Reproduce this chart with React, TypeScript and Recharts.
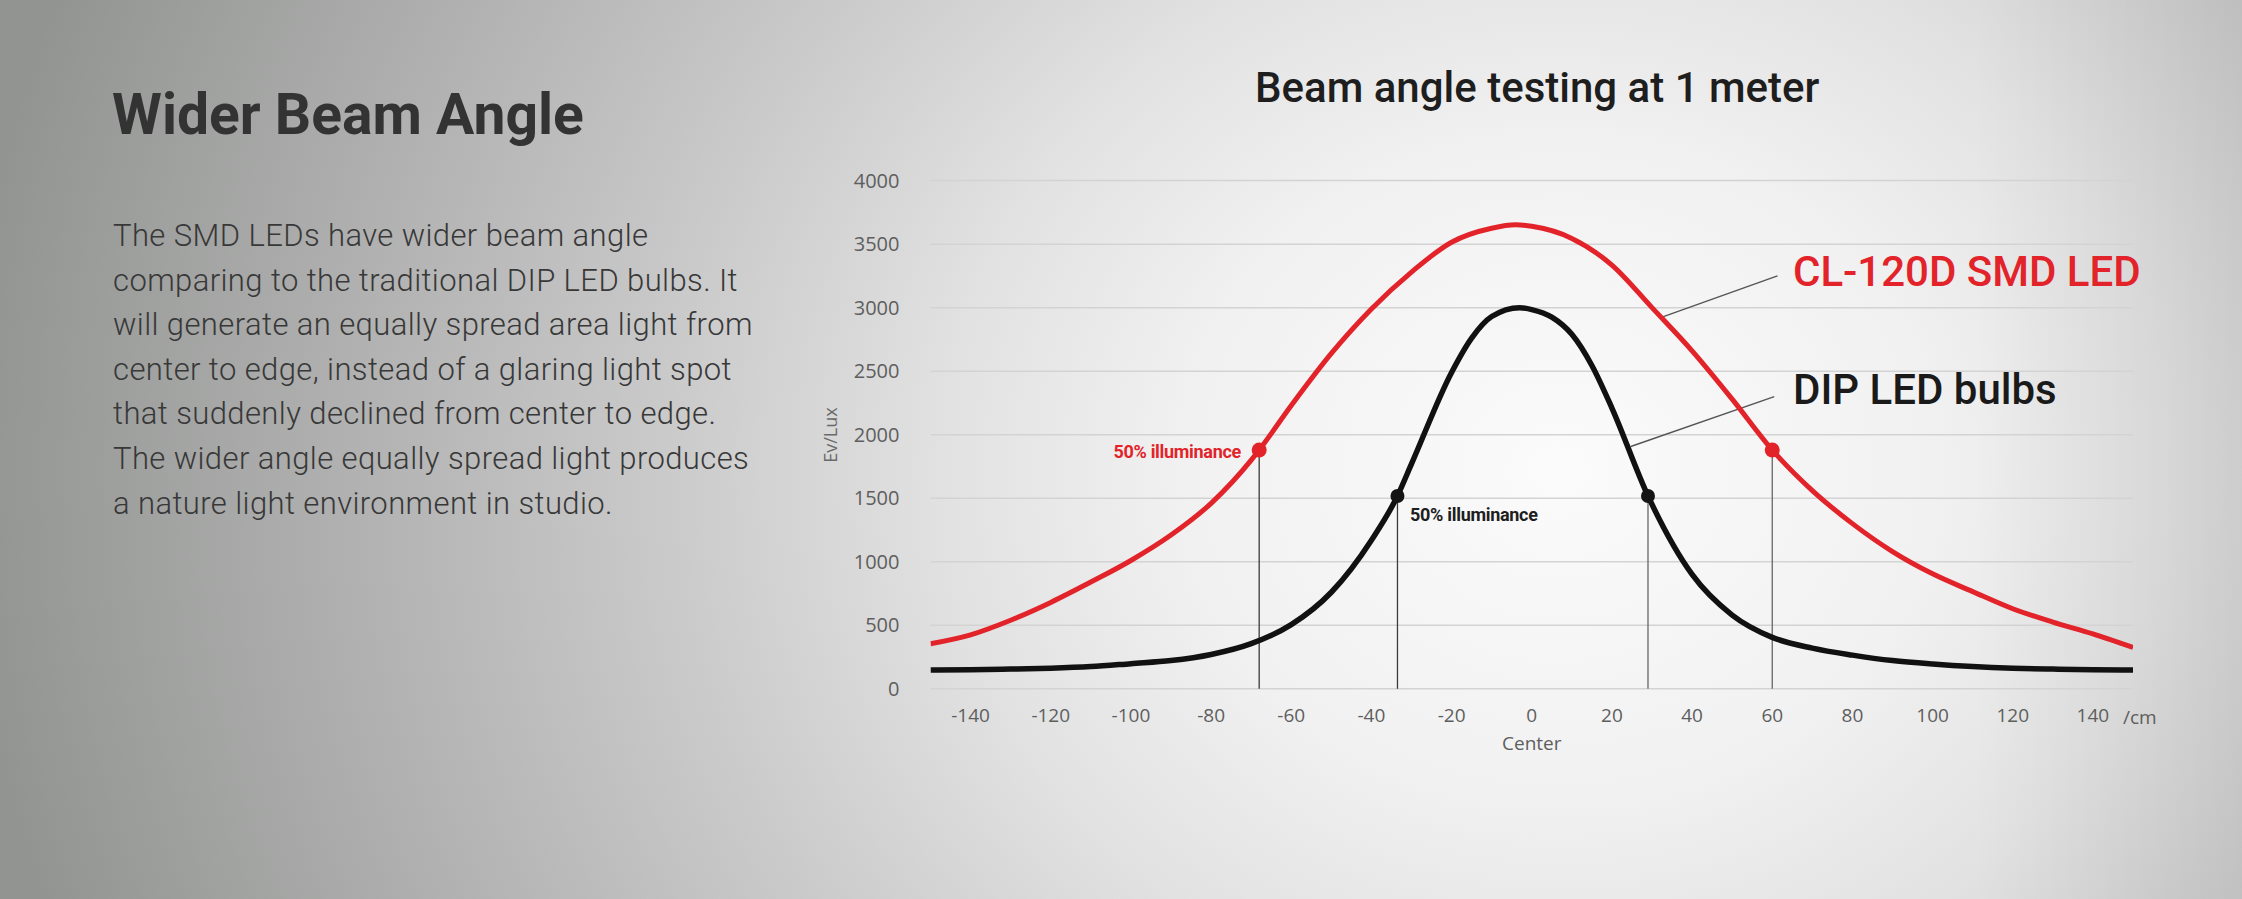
import { LineChart, Line, XAxis, YAxis, CartesianGrid, ReferenceLine, ReferenceDot } from 'recharts';

// beam profile, distance from center in cm
const smdPositions = [-150, -140, -130, -120, -110, -100, -90, -80, -70, -68, -60, -50, -40, -30, -20, -10, -4, 0, 10, 20, 30, 40, 50, 60, 70, 80, 90, 100, 110, 120, 130, 140, 150];
const smdLux = [355, 425, 540, 680, 840, 1010, 1210, 1460, 1800, 1880, 2230, 2640, 2990, 3280, 3515, 3625, 3652, 3640, 3545, 3335, 3000, 2660, 2280, 1880, 1560, 1300, 1080, 905, 765, 630, 525, 432, 325];

const dipPositions = [-150, -140, -130, -120, -110, -100, -90, -80, -70, -60, -50, -40, -33.5, -30, -20, -15, -10, -3, 0, 5, 10, 15, 20, 29, 40, 50, 60, 70, 80, 90, 100, 110, 120, 130, 140, 150];
const dipLux = [148, 150, 155, 162, 175, 198, 222, 270, 355, 505, 760, 1170, 1518, 1770, 2490, 2760, 2930, 3000, 2985, 2925, 2790, 2545, 2210, 1518, 900, 580, 405, 320, 265, 222, 195, 175, 162, 155, 150, 148];

// 50% illuminance points
const smdHalf = { left: -68, right: 60, lux: 1880 };
const dipHalf = { left: -33.5, right: 29, lux: 1518 };

const xTicks = [-140, -120, -100, -80, -60, -40, -20, 0, 20, 40, 60, 80, 100, 120, 140];
const yTicks = [0, 500, 1000, 1500, 2000, 2500, 3000, 3500, 4000];

const paragraph = [
  'The SMD LEDs have wider beam angle',
  'comparing to the traditional DIP LED bulbs. It',
  'will generate an equally spread area light from',
  'center to edge, instead of a glaring light spot',
  'that suddenly declined from center to edge.',
  'The wider angle equally spread light produces',
  'a nature light environment in studio.',
];

const smdData = smdPositions.map((x, i) => ({ x, v: smdLux[i] }));
const dipData = dipPositions.map((x, i) => ({ x, v: dipLux[i] }));

const RED = '#e2232a';
const tickFont = '"Open Sans", sans-serif';

function XTick(props: any) {
  const { x, y, payload } = props;
  return (
    <g>
      <text x={x} y={y + 23} textAnchor="middle" fill="#5e5e5e" fontSize={19} fontFamily={tickFont}>
        {payload.value}
      </text>
      {payload.value === 0 && (
        <text x={x} y={y + 51} textAnchor="middle" fill="#5e5e5e" fontSize={19} fontFamily={tickFont}>
          Center
        </text>
      )}
    </g>
  );
}

const abs = (left: number, top: number, extra: any = {}) => ({ position: 'absolute' as const, left, top, whiteSpace: 'nowrap' as const, ...extra });

export default function App() {
  return (
    <div
      style={{
        position: 'absolute',
        left: 0,
        top: 0,
        width: 2242,
        height: 899,
        overflow: 'hidden',
        background:
          'linear-gradient(to right, rgba(0,0,0,0) 88%, rgba(0,0,0,0.07) 100%), radial-gradient(ellipse 1700px 1500px at 1560px 470px, #fbfbfb 0%, #f1f1f1 22%, #e2e2e2 36%, #cbcbcb 52%, #afb0af 72%, #929492 94%)',
        fontFamily: 'Roboto, sans-serif',
      }}
    >
      <div style={abs(112, 82, { fontSize: 57, fontWeight: 700, lineHeight: '66px', color: '#333' })}>Wider Beam Angle</div>
      <div style={abs(113, 214, { fontSize: 31, fontWeight: 300, lineHeight: '44.6px', letterSpacing: 0.4, color: '#383838' })}>
        {paragraph.map((l) => (
          <div key={l}>{l}</div>
        ))}
      </div>

      <div style={abs(1255, 63, { fontSize: 42, fontWeight: 500, lineHeight: '50px', color: '#1e1e1e' })}>
        Beam angle testing at 1 meter
      </div>

      <div style={{ position: 'absolute', left: 0, top: 0 }}>
        <LineChart width={2242} height={899} margin={{ top: 180.6, right: 109, bottom: 150.2, left: 830 }}>
          <CartesianGrid vertical={false} stroke="#d3d3d3" strokeWidth={1.5} />
          <XAxis
            dataKey="x"
            type="number"
            domain={[-150, 150]}
            ticks={xTicks}
            axisLine={false}
            tickLine={false}
            tickSize={0}
            tickMargin={10}
            height={60}
            tick={<XTick />}
            allowDataOverflow
          />
          <YAxis
            type="number"
            domain={[0, 4000]}
            ticks={yTicks}
            axisLine={false}
            tickLine={false}
            tickSize={6}
            tickMargin={25}
            width={100.5}
            tick={{ fill: '#5e5e5e', fontSize: 20, fontFamily: tickFont }}
          />
          <ReferenceLine segment={[{ x: smdHalf.left, y: 0 }, { x: smdHalf.left, y: smdHalf.lux }]} stroke="#3a3a3a" strokeWidth={1.3} />
          <ReferenceLine segment={[{ x: smdHalf.right, y: 0 }, { x: smdHalf.right, y: smdHalf.lux }]} stroke="#666" strokeWidth={1.3} />
          <ReferenceLine segment={[{ x: dipHalf.left, y: 0 }, { x: dipHalf.left, y: dipHalf.lux }]} stroke="#3a3a3a" strokeWidth={1.3} />
          <ReferenceLine segment={[{ x: dipHalf.right, y: 0 }, { x: dipHalf.right, y: dipHalf.lux }]} stroke="#666" strokeWidth={1.3} />
          <ReferenceLine segment={[{ x: 32.5, y: 2925 }, { x: 61.3, y: 3250 }]} stroke="#555" strokeWidth={1.4} />
          <ReferenceLine segment={[{ x: 24.7, y: 1907 }, { x: 60.5, y: 2300 }]} stroke="#555" strokeWidth={1.4} />
          <Line data={smdData} dataKey="v" type="monotone" stroke={RED} strokeWidth={5} dot={false} isAnimationActive={false} />
          <Line data={dipData} dataKey="v" type="monotone" stroke="#111" strokeWidth={5.5} dot={false} isAnimationActive={false} />
          <ReferenceDot x={smdHalf.left} y={smdHalf.lux} r={7.5} fill={RED} stroke="none" />
          <ReferenceDot x={smdHalf.right} y={smdHalf.lux} r={7.5} fill={RED} stroke="none" />
          <ReferenceDot x={dipHalf.left} y={dipHalf.lux} r={7} fill="#151515" stroke="none" />
          <ReferenceDot x={dipHalf.right} y={dipHalf.lux} r={7} fill="#151515" stroke="none" />
        </LineChart>
      </div>

      <div style={abs(830, 435, { transform: 'translate(-50%, -50%) rotate(-90deg)', fontSize: 18, fontFamily: tickFont, color: '#6a6a6a' })}>
        Ev/Lux
      </div>
      <div style={abs(2123, 705, { fontSize: 19, fontFamily: tickFont, color: '#5e5e5e', lineHeight: '24px' })}>/cm</div>

      <div style={abs(1241, 441, { transform: 'translateX(-100%)', fontSize: 18, fontWeight: 700, color: RED, lineHeight: '22px', letterSpacing: -0.3 })}>
        50% illuminance
      </div>
      <div style={abs(1410, 504, { fontSize: 18, fontWeight: 700, color: '#1e1e1e', lineHeight: '22px', letterSpacing: -0.3 })}>
        50% illuminance
      </div>

      <div style={abs(1793, 248, { fontSize: 42, fontWeight: 500, color: RED, lineHeight: '48px' })}>CL-120D SMD LED</div>
      <div style={abs(1793, 366, { fontSize: 42, fontWeight: 500, color: '#1a1a1a', lineHeight: '48px' })}>DIP LED bulbs</div>
    </div>
  );
}
